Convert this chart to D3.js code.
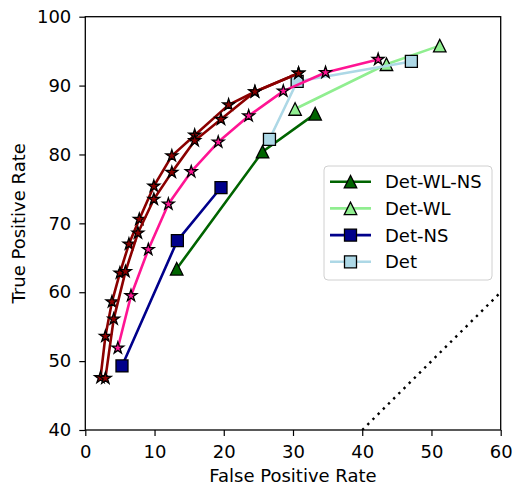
<!DOCTYPE html>
<html><head><meta charset="utf-8">
<script src="https://cdn.jsdelivr.net/npm/d3@7"></script>
<style>body{margin:0;background:#fff;} text{font-family:"DejaVu Sans",sans-serif;}</style>
</head><body><svg id="c" width="514" height="485"></svg>
<script>
const xTicks = [0,10,20,30,40,50,60];
const yTicks = [40,50,60,70,80,90,100];
// legend series
const detWLNS = [[13.2,63.4],[25.6,80.4],[33.2,85.9]];
const detWL   = [[30.3,86.6],[43.5,93.1],[51.2,95.8]];
const detNS   = [[5.3,49.3],[13.3,67.5],[19.6,75.2]];
const det     = [[26.6,82.2],[30.6,90.6],[47.1,93.5]];
// star series (not in legend)
const starA = [[2.2,47.6],[2.9,53.6],[3.85,58.6],[5.0,62.8],[6.3,67.0],[7.8,70.6],[9.9,75.4],[12.5,79.8],[15.8,82.8],[20.7,87.2],[24.5,89.1],[30.8,91.8]];
const starB = [[2.9,47.5],[4.1,56.1],[5.8,63.0],[7.6,68.6],[9.9,73.5],[12.5,77.4],[15.8,82.0],[19.6,85.1],[24.5,89.1],[30.8,91.8]];
const starP = [[4.7,51.9],[6.6,59.5],[9.1,66.2],[12.0,72.8],[15.3,77.5],[19.2,81.8],[23.6,85.6],[28.6,89.2],[34.7,91.9],[42.3,93.8]];
const diag = [[40,40],[60,60]];

const svg = d3.select("#c");
const L=85.3, R=500.7, T=16.7, B=430;
const FS=18;
const x = d3.scaleLinear().domain([0,60]).range([L,R]);
const y = d3.scaleLinear().domain([40,100]).range([B,T]);
const line = d3.line().x(d=>x(d[0])).y(d=>y(d[1]));

svg.append("clipPath").attr("id","cp").append("rect").attr("x",L).attr("y",T).attr("width",R-L).attr("height",B-T);
const g = svg.append("g").attr("clip-path","url(#cp)");

function starPath(r){
  const pts=[];
  for(let i=0;i<10;i++){const a=-Math.PI/2+i*Math.PI/5;const rr=i%2?r*0.382:r;pts.push([rr*Math.cos(a),rr*Math.sin(a)]);}
  return "M"+pts.map(p=>p[0].toFixed(2)+","+p[1].toFixed(2)).join("L")+"Z";
}
function triPath(s){const h=s/2;return `M0,${-h}L${-h},${h}L${h},${h}Z`;}
function sqPath(s){const h=s/2;return `M${-h},${-h}H${h}V${h}H${-h}Z`;}

function series(data,color,marker,fill){
  g.append("path").datum(data).attr("d",line).attr("fill","none").attr("stroke",color).attr("stroke-width",2.6).attr("stroke-linejoin","round");
  g.selectAll(null).data(data).enter().append("path")
    .attr("transform",d=>`translate(${x(d[0])},${y(d[1])})`)
    .attr("d",marker).attr("fill",fill).attr("stroke","#000").attr("stroke-width",1.3).attr("stroke-linejoin","miter");
}
// diagonal
g.append("path").datum(diag).attr("d",line).attr("fill","none").attr("stroke","#000").attr("stroke-width",2.4).attr("stroke-dasharray","2.4,4.9");

series(detWLNS,"#006400",triPath(12.5),"#006400");
series(detWL,"#90ee90",triPath(12.5),"#90ee90");
series(detNS,"#00008b",sqPath(12),"#00008b");
series(det,"#add8e6",sqPath(12),"#add8e6");
series(starA,"#8b0000",starPath(6.2),"#8b0000");
series(starB,"#8b0000",starPath(6.2),"#8b0000");
series(starP,"#ff1493",starPath(6.2),"#ff1493");

// axes
const xa = svg.append("g").attr("transform",`translate(0,${B})`).call(d3.axisBottom(x).tickValues(xTicks).tickSize(6).tickPadding(9));
const ya = svg.append("g").attr("transform",`translate(${L},0)`).call(d3.axisLeft(y).tickValues(yTicks).tickSize(6).tickPadding(8));
[xa,ya].forEach(a=>{a.select(".domain").remove();a.selectAll("line").attr("stroke","#000").attr("stroke-width",1.2);a.selectAll("text").attr("font-size",FS).attr("fill","#000").style("font-family","DejaVu Sans");});
svg.append("rect").attr("x",L).attr("y",T).attr("width",R-L).attr("height",B-T).attr("fill","none").attr("stroke","#000").attr("stroke-width",1.3);

svg.append("text").attr("x",(L+R)/2).attr("y",482).attr("text-anchor","middle").attr("font-size",FS).text("False Positive Rate");
svg.append("text").attr("transform",`translate(25,${(T+B)/2}) rotate(-90)`).attr("text-anchor","middle").attr("font-size",FS).text("True Positive Rate");

// legend
const legNames=["Det-WL-NS","Det-WL","Det-NS","Det"];
const legColors=["#006400","#90ee90","#00008b","#add8e6"];
const legMarkers=[triPath(12.5),triPath(12.5),sqPath(12),sqPath(12)];
const lg = svg.append("g");
lg.append("rect").attr("x",324).attr("y",166).attr("width",168).attr("height",114).attr("rx",4).attr("fill","#fff").attr("fill-opacity",0.8).attr("stroke","#d0d0d0").attr("stroke-width",1);
legNames.forEach((n,i)=>{
  const yy=181.7+i*26.7;
  lg.append("line").attr("x1",330).attr("x2",371).attr("y1",yy).attr("y2",yy).attr("stroke",legColors[i]).attr("stroke-width",2.6);
  lg.append("path").attr("transform",`translate(350.5,${yy})`).attr("d",legMarkers[i]).attr("fill",legColors[i]).attr("stroke","#000").attr("stroke-width",1.3);
  lg.append("text").attr("x",385).attr("y",yy+6.5).attr("font-size",FS).text(n);
});
</script></body></html>
